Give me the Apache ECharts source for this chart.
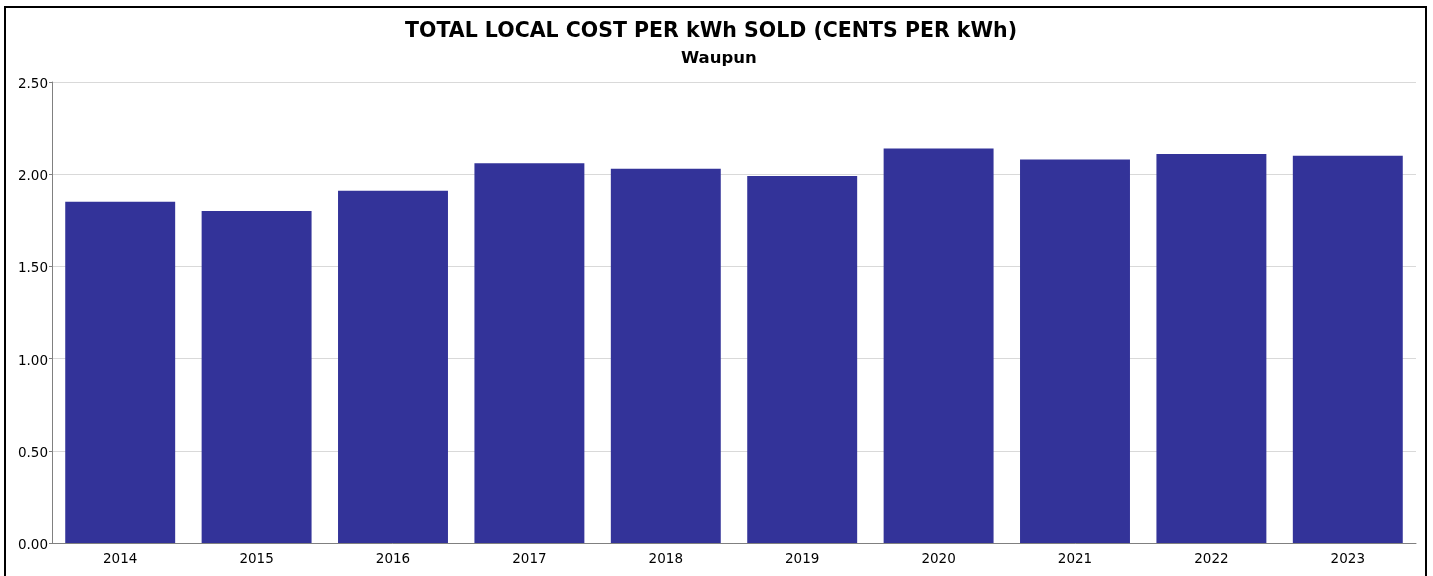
<!DOCTYPE html>
<html>
<head>
<meta charset="utf-8">
<script src="https://cdn.jsdelivr.net/npm/echarts@6/dist/echarts.min.js"></script>
<style>
  html, body { margin: 0; padding: 0; background: #fff; }
  #chart { width: 1433px; height: 576px; }
</style>
</head>
<body>
<div id="chart"></div>
<script>
// Fiscal years and local cost per kWh sold (cents)
const years = ['2014', '2015', '2016', '2017', '2018', '2019', '2020', '2021', '2022', '2023'];
const costPerKwh = [1.85, 1.80, 1.91, 2.06, 2.03, 1.99, 2.14, 2.08, 2.11, 2.10];
const yTicks = { min: 0, max: 2.5, interval: 0.5 };

const FONT = 'DejaVu Sans';
const chart = echarts.init(document.getElementById('chart'), null, { renderer: 'canvas' });

chart.setOption({
  animation: false,
  backgroundColor: '#ffffff',
  title: [{
    text: 'TOTAL LOCAL COST PER kWh SOLD (CENTS PER kWh)',
    left: 400,
    top: 16,
    textStyle: { fontFamily: FONT, fontWeight: 'bold', fontSize: 20.5, color: '#000' }
  }, {
    text: 'Waupun',
    left: 676,
    top: 45,
    textStyle: { fontFamily: FONT, fontWeight: 'bold', fontSize: 16.5, color: '#000' }
  }],
  graphic: [{
    type: 'rect',
    shape: { x: 5, y: 7, width: 1421, height: 600 },
    style: { fill: 'none', stroke: '#000', lineWidth: 2 },
    silent: true
  }],
  grid: { left: 52, right: 17, top: 82, bottom: 33 },
  xAxis: {
    type: 'category',
    data: years,
    axisLine: { lineStyle: { color: '#808080', width: 1 } },
    axisTick: { show: false },
    axisLabel: { fontFamily: FONT, fontSize: 13.5, color: '#000', margin: 9 }
  },
  yAxis: {
    type: 'value',
    min: yTicks.min,
    max: yTicks.max,
    interval: yTicks.interval,
    axisLine: { show: true, lineStyle: { color: '#808080', width: 1 } },
    axisTick: { show: true, length: 3, lineStyle: { color: '#808080' } },
    axisLabel: {
      fontFamily: FONT, fontSize: 13.5, color: '#000', margin: 4,
      verticalAlign: 'top',
      lineHeight: 5,
      formatter: v => v.toFixed(2)
    },
    splitLine: { lineStyle: { color: '#d9d9d9', width: 1 } }
  },
  series: [{
    type: 'bar',
    data: costPerKwh,
    barCategoryGap: '19.4%',
    itemStyle: { color: '#333399' }
  }]
});
</script>
</body>
</html>
